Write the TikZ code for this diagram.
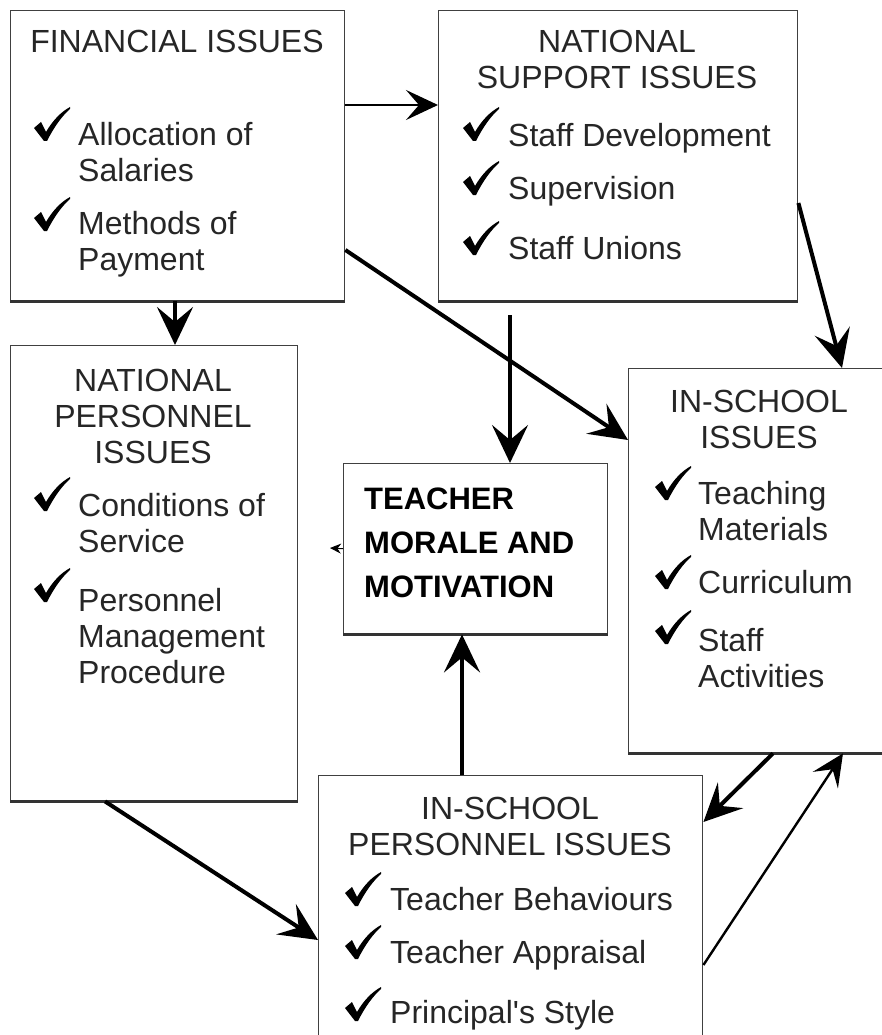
\documentclass[tikz,border=0pt]{standalone}
\usepackage{fontspec}
\setmainfont{Liberation Sans}
\usetikzlibrary{arrows.meta}

\tikzset{
  box/.style={draw=black!75, line width=1.4pt, anchor=north west, inner sep=0pt},
  boxfoot/.style={draw=black!80, line width=3.5pt},
  title/.style={anchor=base, align=center, inner sep=0pt, font=\fontsize{32}{36}\selectfont, text=black!85},
  item/.style={anchor=base west, align=left, inner sep=0pt, font=\fontsize{32}{36}\selectfont, text=black!85},
  tickmark/.pic={\fill[black] (1,21) -- (8,15) -- (13,25) .. controls (20,13) and (28,5) .. (37,0)
                 -- (37,2) .. controls (29,9) and (21,20) .. (14,34) -- (11,34) -- cycle;},
  bigarrow/.style={line width=4pt, -{Stealth[length=38pt,width=36pt,inset=15pt]}},
  thinarrow/.style={line width=2.4pt, -{Stealth[length=32pt,width=30pt,inset=13pt]}},
}

\begin{document}
\begin{tikzpicture}[x=1pt,y=-1pt]
                \fill[white] (0,0) rectangle (882,1035);
                \useasboundingbox (0,0) rectangle (882,1035);
                % boxes
                \node[box, minimum width=334, minimum height=290] (fin) at (10,10) {};
                \node[box, minimum width=359, minimum height=290] (nsup) at (438,10) {};
                \node[box, minimum width=287, minimum height=455] (npers) at (10,345) {};
                \node[box, minimum width=264, minimum height=170] (morale) at (343,463) {};
                \node[box, minimum width=262, minimum height=384] (insch) at (628,368) {};
                \node[box, minimum width=384, minimum height=300] (ispers) at (318,775) {};
                \draw[boxfoot] (fin.south west) -- (fin.south east);
                \draw[boxfoot] (nsup.south west) -- (nsup.south east);
                \draw[boxfoot] (npers.south west) -- (npers.south east);
                \draw[boxfoot] (morale.south west) -- (morale.south east);
                \draw[boxfoot] (insch.south west) -- (insch.south east);
                % financial
                \node[title] (fintitle) at (177,53) {FINANCIAL ISSUES};
                \pic at (33,107) {tickmark};
                \node[item] (finitem1) at (78,182) {Allocation of\\Salaries};
                \pic at (33,197) {tickmark};
                \node[item] (finitem2) at (78,270) {Methods of\\Payment};
                % national support
                \node[title] (nsuptitle) at (617,89) {NATIONAL\\SUPPORT ISSUES};
                \pic at (462,107) {tickmark};
                \node[item] (nsupitem1) at (508,147) {Staff Development};
                \pic at (462,161) {tickmark};
                \node[item] (nsupitem2) at (508,200) {Supervision};
                \pic at (462,221) {tickmark};
                \node[item] (nsupitem3) at (508,259) {Staff Unions};
                % national personnel
                \node[title] (nperstitle) at (153,463) {NATIONAL\\PERSONNEL\\ISSUES};
                \pic at (33,477) {tickmark};
                \node[item] (npersitem1) at (78,552) {Conditions of\\Service};
                \pic at (33,568) {tickmark};
                \node[item] (npersitem2) at (78,683) {Personnel\\Management\\Procedure};
                % morale
                \node[anchor=base west, align=left, inner sep=0pt, text=black,
                      font=\bfseries\fontsize{31}{44}\selectfont] (moraletext) at (364,597)
                      {TEACHER\\MORALE AND\\MOTIVATION};
                % in-school
                \node[title] (inschtitle) at (759,448) {IN-SCHOOL\\ISSUES};
                \pic at (654,466) {tickmark};
                \node[item] (inschitem1) at (698,540) {Teaching\\Materials};
                \pic at (654,555) {tickmark};
                \node[item] (inschitem2) at (698,593) {Curriculum};
                \pic at (654,610) {tickmark};
                \node[item] (inschitem3) at (698,687) {Staff\\Activities};
                % in-school personnel
                \node[title] (isperstitle) at (510,855) {IN-SCHOOL\\PERSONNEL ISSUES};
                \pic at (344,872) {tickmark};
                \node[item] (ispersitem1) at (390,910) {Teacher Behaviours};
                \pic at (344,925) {tickmark};
                \node[item] (ispersitem2) at (390,963) {Teacher Appraisal};
                \pic at (344,987) {tickmark};
                \node[item] (ispersitem3) at (390,1023) {Principal\textquotesingle s Style};
                % arrows
                \coordinate (nsdrop) at (510,315);
                \coordinate (moraleleft) at (330,548);
                \draw[thinarrow] ([yshift=-95pt]fin.north east) -- ([yshift=-95pt]nsup.north west);
                \draw[bigarrow] ([xshift=165pt]fin.south west) -- ([xshift=165pt]npers.north west);
                \draw[bigarrow] ([yshift=-240pt]fin.north east) -- ([yshift=-72pt]insch.north west);
                \draw[bigarrow] (nsdrop) -- (nsdrop |- morale.north);
                \draw[bigarrow] ([yshift=-193pt]nsup.north east) -- ([xshift=214pt]insch.north west);
                \draw[line width=1pt, -{Stealth[length=11pt,width=10pt]}] (morale.west) -- (moraleleft);
                \draw[bigarrow] ([xshift=144pt]ispers.north west) -- ([xshift=119pt]morale.south west);
                \draw[bigarrow] ([xshift=95pt]npers.south west) -- ([yshift=-165pt]ispers.north west);
                \draw[bigarrow] ([xshift=145pt]insch.south west) -- ([yshift=-47pt]ispers.north east);
                \draw[thinarrow] ([yshift=-190pt]ispers.north east) -- ([xshift=215pt]insch.south west);
            \end{tikzpicture}
\end{document}
